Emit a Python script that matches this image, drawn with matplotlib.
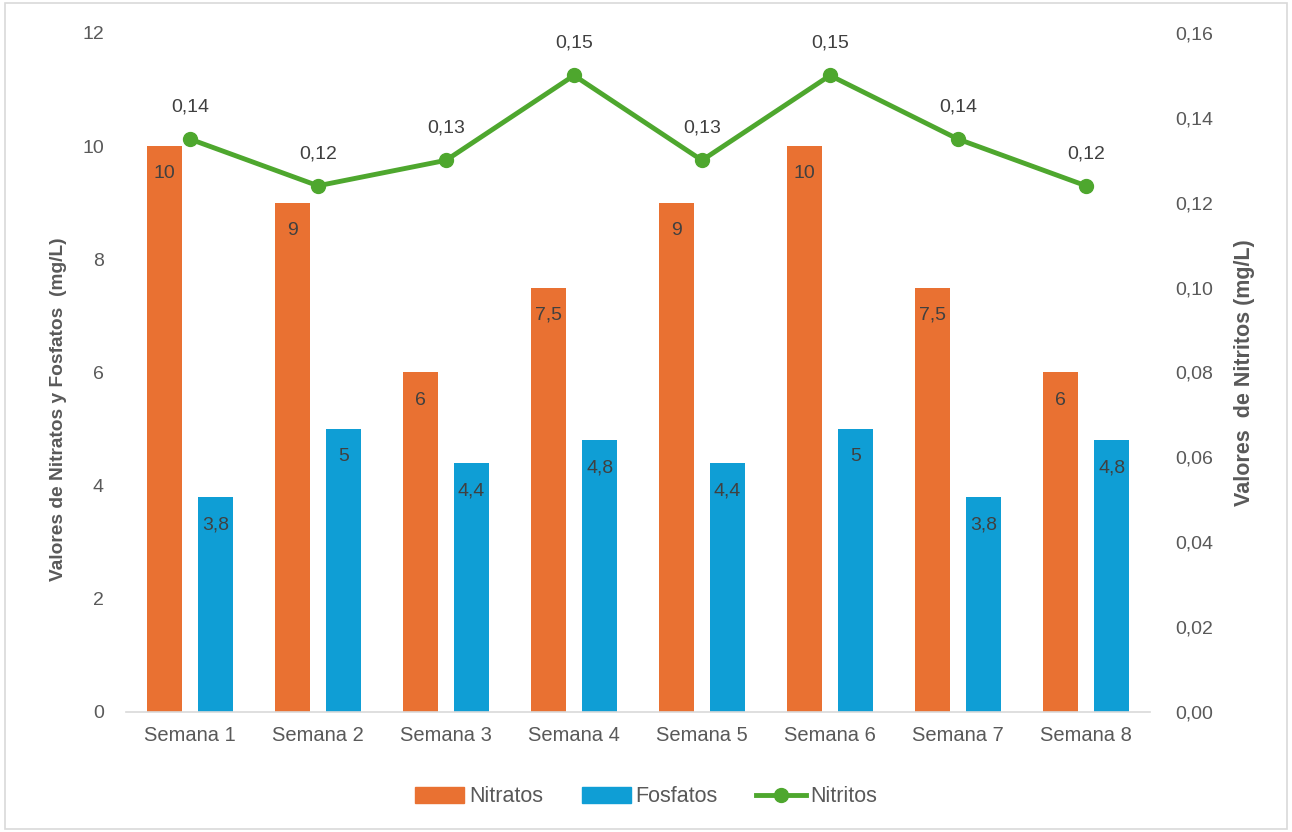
from decimal import Decimal, ROUND_HALF_UP
import numpy as np
import matplotlib.pyplot as plt
from matplotlib.patches import Rectangle

semanas = ['Semana 1', 'Semana 2', 'Semana 3', 'Semana 4',
           'Semana 5', 'Semana 6', 'Semana 7', 'Semana 8']
nitratos = [10, 9, 6, 7.5, 9, 10, 7.5, 6]
fosfatos = [3.8, 5, 4.4, 4.8, 4.4, 5, 3.8, 4.8]
nitritos = [0.135, 0.124, 0.13, 0.15, 0.13, 0.15, 0.135, 0.124]

c_nit = '#E97132'
c_fos = '#0F9ED5'
c_nii = '#4EA72E'
txt = '#595959'

plt.rcParams['font.family'] = ['Liberation Sans', 'DejaVu Sans']


def coma(v, dec=None):
    if dec is None:
        s = f'{v:g}'
    else:
        q = Decimal(str(v)).quantize(Decimal(1).scaleb(-dec), rounding=ROUND_HALF_UP)
        s = str(q)
    return s.replace('.', ',')


fig = plt.figure(figsize=(12.92, 8.32), dpi=100)
ax = fig.add_axes([126 / 1292, 120 / 832, 1024 / 1292, 679 / 832])
ax2 = ax.twinx()

x = np.arange(len(semanas))
w = 0.27
off = 0.2
b1 = ax.bar(x - off, nitratos, w, color=c_nit, label='Nitratos', zorder=2)
b2 = ax.bar(x + off, fosfatos, w, color=c_fos, label='Fosfatos', zorder=2)

# etiquetas dentro del extremo de cada barra
for bars, vals in ((b1, nitratos), (b2, fosfatos)):
    for r, v in zip(bars, vals):
        ax.annotate(coma(v), (r.get_x() + r.get_width() / 2, v),
                    xytext=(0, -20), textcoords='offset points',
                    ha='center', va='center', fontsize=14, color='#404040')

ln, = ax2.plot(x, nitritos, color=c_nii, lw=3.5, marker='o', ms=10,
               label='Nitritos', zorder=3)
for xi, v in zip(x, nitritos):
    ax2.annotate(coma(v, 2), (xi, v), xytext=(0, 23), textcoords='offset points',
                 ha='center', va='center', fontsize=14, color='#404040')

ax.set_xlim(-0.5, len(semanas) - 0.5)
ax.set_ylim(0, 12)
ax.set_yticks(np.arange(0, 13, 2))
ax2.set_ylim(0, 0.16)
ax2.set_yticks(np.arange(0, 0.161, 0.02))
ax2.set_yticklabels([coma(t, 2) for t in np.arange(0, 0.161, 0.02)])

ax.set_xticks(x)
ax.set_xticklabels(semanas)

for a in (ax, ax2):
    for s in ('top', 'left', 'right', 'bottom'):
        a.spines[s].set_visible(False)
    a.tick_params(length=0, labelsize=14, labelcolor=txt)
ax.spines['bottom'].set_visible(True)
ax.spines['bottom'].set_color('#D9D9D9')
ax.spines['bottom'].set_linewidth(1.2)
ax.tick_params(axis='y', pad=16)
ax2.tick_params(axis='y', pad=18)
ax.tick_params(axis='x', pad=10, labelsize=14.5)

ax.set_ylabel('Valores de Nitratos y Fosfatos  (mg/L)', fontsize=13.8,
              fontweight='bold', color=txt)
ax.yaxis.set_label_coords(-59 / 1024, 0.446)
ax2.set_ylabel('Valores  de Nitritos (mg/L)', fontsize=15.5,
               fontweight='bold', color=txt)
ax2.yaxis.set_label_coords(1 + 84 / 1024, 0.5)

handles = [Rectangle((0, 0), 1, 1, color=c_nit), Rectangle((0, 0), 1, 1, color=c_fos), ln]
fig.legend(handles, ['Nitratos', 'Fosfatos', 'Nitritos'], loc='center',
           bbox_to_anchor=(0.5, 35 / 832), ncol=3, frameon=False, fontsize=15.5,
           labelcolor=txt, handlelength=2.3, handleheight=0.8, handletextpad=0.2,
           columnspacing=1.8)

fig.add_artist(Rectangle((0.004, 0.004), 0.992, 0.992, transform=fig.transFigure,
                         fill=False, ec='#D9D9D9', lw=1.2))

fig.savefig('out.png', dpi=100)
